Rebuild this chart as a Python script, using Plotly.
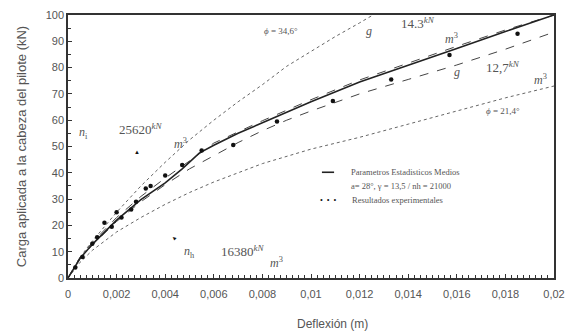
import plotly.graph_objects as go

# ---- data ----
x_solid = [0, 0.0005, 0.001, 0.0015, 0.002, 0.003, 0.004, 0.0047, 0.0054, 0.006, 0.007, 0.008, 0.009, 0.01, 0.012, 0.014, 0.016, 0.018, 0.02]
y_solid = [0, 7.5, 12.8, 17.5, 22, 29.8, 36.2, 41.5, 47.5, 50.5, 55, 59, 63, 67, 74.5, 81, 87.3, 93.7, 100]

x_dash_hi = [0, 0.0005, 0.001, 0.002, 0.003, 0.004, 0.005, 0.006, 0.008, 0.01, 0.012, 0.014, 0.016, 0.018, 0.02]
y_dash_hi = [0, 8, 13.5, 23, 31, 38, 44.5, 51.3, 59.8, 67.8, 75.3, 81.8, 88.1, 94.3, 100]

x_dash_lo = [0, 0.0005, 0.001, 0.002, 0.003, 0.004, 0.005, 0.006, 0.007, 0.008, 0.009, 0.01, 0.012, 0.014, 0.016, 0.018, 0.02]
y_dash_lo = [0, 7.5, 12.5, 21.5, 29, 35.5, 41.5, 46.5, 51.5, 56, 60, 63.5, 70, 75.5, 81, 87, 93.5]

x_dot_hi = [0, 0.0005, 0.001, 0.002, 0.003, 0.004, 0.005, 0.006, 0.007, 0.008, 0.009, 0.01, 0.011, 0.012, 0.01255]
y_dot_hi = [0, 8, 14, 25, 35, 44, 52.5, 60, 67, 73.5, 80.5, 86.3, 91.8, 97, 100]

x_dot_lo = [0, 0.0005, 0.001, 0.002, 0.003, 0.004, 0.005, 0.006, 0.007, 0.008, 0.01, 0.012, 0.014, 0.016, 0.018, 0.02]
y_dot_lo = [0, 6, 10.5, 17.5, 23, 28, 32.5, 36.5, 40, 43.5, 49, 53.5, 58.5, 63.5, 68.5, 73]

x_exp = [0.0003, 0.0006, 0.001, 0.0012, 0.0015, 0.0018, 0.002, 0.0022, 0.0026, 0.0028, 0.0032, 0.0034, 0.004, 0.0047, 0.0055,
         0.0068, 0.0086, 0.0109, 0.0133, 0.0157, 0.0185]
y_exp = [4, 8, 13, 15.5, 21, 19.5, 25, 23, 26, 29, 34, 35, 39, 43, 48.5,
         50.6, 59.5, 67.3, 75.5, 84.8, 92.9]

x_tickvals = [0, 0.002, 0.004, 0.006, 0.008, 0.01, 0.012, 0.014, 0.016, 0.018, 0.02]
x_ticktext = ["0", "0,002", "0,004", "0,006", "0,008", "0,01", "0,012", "0,014", "0,016", "0,018", "0,02"]
y_tickvals = [0, 10, 20, 30, 40, 50, 60, 70, 80, 90, 100]
y_ticktext = ["0", "10", "20", "30", "40", "50", "60", "70", "80", "90", "100"]

legend_line_x = [0.01045, 0.01095]
legend_line_y = [40.2, 40.2]

fig = go.Figure()
fig.add_trace(go.Scatter(x=x_dot_hi, y=y_dot_hi, mode="lines", line=dict(color="#666", width=1, dash="dot"), showlegend=False))
fig.add_trace(go.Scatter(x=x_dot_lo, y=y_dot_lo, mode="lines", line=dict(color="#666", width=1, dash="dot"), showlegend=False))
fig.add_trace(go.Scatter(x=x_dash_hi, y=y_dash_hi, mode="lines", line=dict(color="#444", width=1, dash="dash"), showlegend=False))
fig.add_trace(go.Scatter(x=x_dash_lo, y=y_dash_lo, mode="lines", line=dict(color="#444", width=1, dash="dash"), showlegend=False))
fig.add_trace(go.Scatter(x=x_solid, y=y_solid, mode="lines", line=dict(color="#222", width=1.6), showlegend=False))
fig.add_trace(go.Scatter(x=x_exp, y=y_exp, mode="markers", marker=dict(color="#111", size=4.5), showlegend=False))
fig.add_trace(go.Scatter(x=legend_line_x, y=legend_line_y, mode="lines", line=dict(color="#222", width=1.6), showlegend=False))

serif = "Liberation Serif"
gray = "#555"

def ann(x, y, text, size=12, xanchor="center", family=serif, color=gray, angle=0):
    fig.add_annotation(x=x, y=y, text=text, showarrow=False, xanchor=xanchor, yanchor="middle",
                       font=dict(family=family, size=size, color=color), textangle=angle)

# n_i
ann(0.00062, 55, "<i>n</i><sub>i</sub>", 12)
ann(0.0030, 56.5, "25620<i><sup>kN</sup></i>", 13)
ann(0.00465, 51, "<i>m</i><sup>3</sup>", 12)
ann(0.00285, 47.8, "▲", 6, color="#111")
# n_h
ann(0.00436, 15.2, "▲", 6, color="#111", angle=-50)
ann(0.0050, 9.7, "<i>n</i><sub>h</sub>", 12)
ann(0.0072, 10.4, "16380<i><sup>kN</sup></i>", 13)
ann(0.0086, 6.0, "<i>m</i><sup>3</sup>", 12)
# g 14.3
ann(0.01238, 94, "<i>g</i>", 12)
ann(0.0144, 97, "14.3<i><sup>kN</sup></i>", 13)
ann(0.01578, 91, "<i>m</i><sup>3</sup>", 12)
# g 12.7
ann(0.0160, 78.4, "<i>g</i>", 12)
ann(0.0179, 80.3, "12,7<i><sup>kN</sup></i>", 13)
ann(0.01945, 75.5, "<i>m</i><sup>3</sup>", 12)
# phi
ann(0.00876, 94, "<i>ϕ</i> = 34,6°", 9)
ann(0.0179, 63.5, "<i>ϕ</i> = 21,4°", 9)
# legend
ann(0.01155, 40.2, "Parametros Estadisticos Medios", 8.5, xanchor="left")
ann(0.01155, 34.8, "a= 28°, γ = 13,5 / nh = 21000", 8.5, xanchor="left")
ann(0.0107, 29.6, "•  •  •", 8, color="#111")
ann(0.01159, 29.6, "Resultados experimentales", 8.5, xanchor="left")

# x axis title
fig.add_annotation(xref="paper", yref="paper", x=0.545, y=-0.175, text="Deflexión (m)", showarrow=False,
                   xanchor="center", yanchor="middle", font=dict(family="Liberation Sans", size=12, color=gray))

fig.update_layout(
    width=574, height=336,
    margin=dict(l=68, r=13, t=9, b=58),
    paper_bgcolor="white", plot_bgcolor="white",
    showlegend=False,
)
fig.update_xaxes(range=[0, 0.02], tickvals=x_tickvals, ticktext=x_ticktext,
                 showline=True, linecolor="#333", linewidth=1.5, mirror=True, showgrid=False, zeroline=False,
                 ticks="inside", ticklen=4, tickcolor="#333", ticklabelstandoff=5,
                 minor=dict(tickmode="linear", tick0=0, dtick=0.00025, ticks="inside", ticklen=3, tickcolor="#333"),
                 tickfont=dict(family="Liberation Sans", size=11, color=gray))
fig.update_yaxes(range=[0, 100], tickvals=y_tickvals, ticktext=y_ticktext,
                 showline=True, linecolor="#333", linewidth=1.5, mirror=True, showgrid=False, zeroline=False,
                 ticks="inside", ticklen=4, tickcolor="#333",
                 minor=dict(tickmode="linear", tick0=0, dtick=5, ticks="inside", ticklen=3, tickcolor="#333"),
                 tickfont=dict(family="Liberation Sans", size=11, color=gray),
                 title=dict(text="Carga aplicada a la cabeza del pilote (kN)", standoff=16,
                            font=dict(family="Liberation Sans", size=13, color=gray)))

fig.write_html("out.html")
